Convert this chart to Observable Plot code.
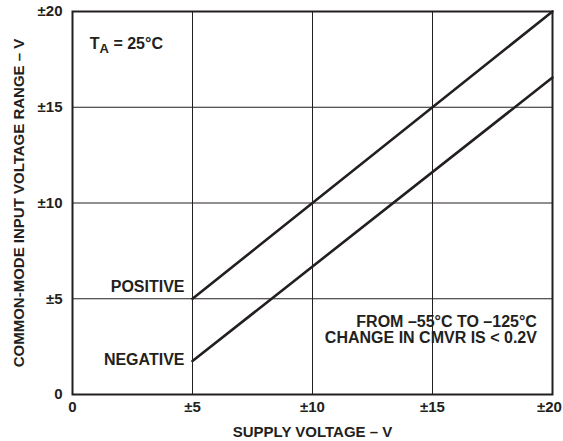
<!DOCTYPE html>
<html>
<head>
<meta charset="utf-8">
<script src="https://cdn.jsdelivr.net/npm/d3@7"></script>
<script src="https://cdn.jsdelivr.net/npm/@observablehq/plot@0.6"></script>
<style>
  html, body { margin: 0; padding: 0; background: #fff; }
  #chart svg { display: block; }
</style>
</head>
<body>
<div id="chart"></div>
<script>
// Data
const supplyVoltage = [5, 20];
const positiveCMVR = [5, 20];
const negativeCMVR = [1.75, 16.55];
const tickValues = [0, 5, 10, 15, 20];
const tickLabels = ["0", "±5", "±10", "±15", "±20"];
const gridValues = [5, 10, 15];

const posData = supplyVoltage.map((v, i) => ({x: v, y: positiveCMVR[i]}));
const negData = supplyVoltage.map((v, i) => ({x: v, y: negativeCMVR[i]}));
const fmt = d => tickLabels[tickValues.indexOf(d)];

const ink = "#231f20";

const chart = Plot.plot({
  width: 563,
  height: 441,
  marginLeft: 72,
  marginRight: 11,
  marginTop: 11,
  marginBottom: 47,
  style: {fontFamily: "'Liberation Sans', Arial, Helvetica, sans-serif", fontWeight: "bold", fontSize: "15px", color: ink, background: "#fff"},
  x: {domain: [0, 20], label: null},
  y: {domain: [0, 20], label: null},
  marks: [
    Plot.gridX(gridValues, {stroke: ink, strokeOpacity: 1, strokeWidth: 1}),
    Plot.gridY(gridValues, {stroke: ink, strokeOpacity: 1, strokeWidth: 1}),
    Plot.frame({stroke: ink, strokeWidth: 2}),
    Plot.axisX(tickValues.slice(0, -1), {tickFormat: fmt, tickSize: 0, tickPadding: 7, label: null}),
    Plot.axisX(tickValues.slice(-1), {tickFormat: fmt, tickSize: 0, tickPadding: 7, dx: -3,
      label: "SUPPLY VOLTAGE – V", labelAnchor: "center", labelArrow: "none", labelOffset: 42}),
    Plot.axisY(tickValues, {tickFormat: fmt, tickSize: 0, tickPadding: 10,
      label: "COMMON-MODE INPUT VOLTAGE RANGE – V", labelAnchor: "center", labelArrow: "none", labelOffset: 59}),
    Plot.line(posData, {x: "x", y: "y", stroke: ink, strokeWidth: 2.6}),
    Plot.line(negData, {x: "x", y: "y", stroke: ink, strokeWidth: 2.6}),
    Plot.text(["TA = 25°C"], {x: 0.72, y: 18.3, text: d => d, textAnchor: "start", lineAnchor: "middle", fill: ink, fontSize: 16, className: "ta-label"}),
    Plot.text([posData[0]], {x: "x", y: "y", text: () => "POSITIVE", textAnchor: "end", lineAnchor: "middle", dx: -8, dy: -11.5, fill: ink, fontSize: 16}),
    Plot.text([negData[0]], {x: "x", y: "y", text: () => "NEGATIVE", textAnchor: "end", lineAnchor: "middle", dx: -8, dy: -1, fill: ink, fontSize: 16}),
    Plot.text(["FROM –55°C TO –125°C\nCHANGE IN CMVR IS < 0.2V"], {x: 19.35, y: 3.36, text: d => d, textAnchor: "end", lineAnchor: "middle", lineHeight: 0.98, fill: ink, fontSize: 16})
  ]
});

// subscript "A" in T_A
d3.select(chart).selectAll(".ta-label text").each(function() {
  const t = d3.select(this);
  t.text(null);
  t.append("tspan").text("T");
  t.append("tspan").attr("font-size", "13px").attr("dy", "4").text("A");
  t.append("tspan").attr("dy", "-4").text(" = 25°C");
});

document.getElementById("chart").appendChild(chart);
</script>
</body>
</html>
